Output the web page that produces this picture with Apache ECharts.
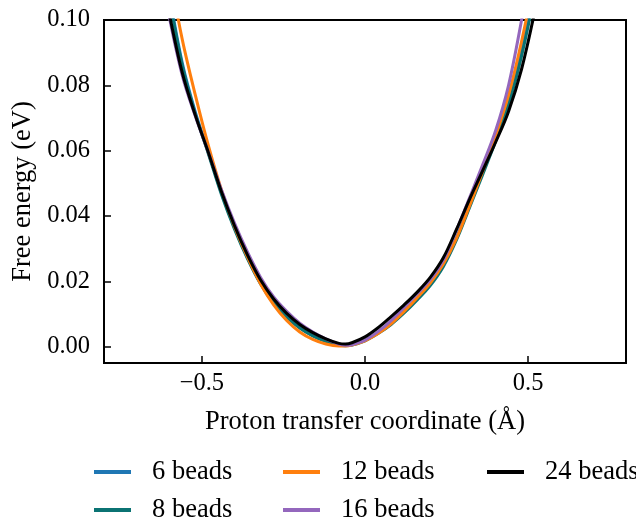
<!DOCTYPE html>
<html>
<head>
<meta charset="utf-8">
<script src="https://cdn.jsdelivr.net/npm/echarts@6/dist/echarts.min.js"></script>
<style>html,body{margin:0;padding:0;background:#fff}#c{width:636px;height:520px}</style>
</head>
<body>
<div id="c"></div>
<script>
const coords = [-0.60,-0.56,-0.52,-0.48,-0.44,-0.40,-0.36,-0.32,-0.28,-0.24,-0.20,-0.16,-0.12,-0.08,-0.06,-0.04,0.00,0.04,0.08,0.12,0.16,0.20,0.24,0.28,0.32,0.36,0.40,0.44,0.48,0.52];
const beads6  = [0.1080,0.0868,0.0718,0.0596,0.0470,0.0364,0.0272,0.0194,0.0135,0.0092,0.0058,0.0034,0.0017,0.0006,0.0004,0.0006,0.0020,0.0043,0.0072,0.0108,0.0148,0.0193,0.0251,0.0334,0.0433,0.0535,0.0640,0.0752,0.0905,0.1100];
const beads8  = [0.1070,0.0860,0.0712,0.0590,0.0466,0.0360,0.0269,0.0192,0.0133,0.0090,0.0057,0.0033,0.0016,0.0005,0.0003,0.0005,0.0018,0.0040,0.0068,0.0103,0.0143,0.0187,0.0245,0.0326,0.0425,0.0525,0.0628,0.0740,0.0890,0.1080];
const beads12 = [0.1150,0.0940,0.0770,0.0615,0.0480,0.0368,0.0274,0.0192,0.0128,0.0080,0.0045,0.0022,0.0008,0.0002,0.0002,0.0005,0.0018,0.0040,0.0070,0.0108,0.0150,0.0195,0.0253,0.0331,0.0430,0.0535,0.0645,0.0770,0.0935,0.1130];
const beads16 = [0.1010,0.0830,0.0705,0.0595,0.0480,0.0378,0.0289,0.0212,0.0152,0.0108,0.0072,0.0045,0.0024,0.0008,0.0004,0.0006,0.0020,0.0046,0.0080,0.0120,0.0162,0.0205,0.0265,0.0356,0.0455,0.0555,0.0660,0.0800,0.1000,0.1220];
const beads24 = [0.1020,0.0838,0.0708,0.0594,0.0474,0.0370,0.0280,0.0204,0.0146,0.0102,0.0068,0.0043,0.0024,0.0010,0.0008,0.0012,0.0030,0.0058,0.0092,0.0128,0.0167,0.0212,0.0272,0.0358,0.0450,0.0537,0.0625,0.0720,0.0850,0.1025];
const seriesNames = ['6 beads','8 beads','12 beads','16 beads','24 beads'];
const xTicks = [-0.5, 0.0, 0.5];
const yTicks = [0.00, 0.02, 0.04, 0.06, 0.08, 0.10];

const colors = ['#1f77b4','#0b7373','#ff7f0e','#9467bd','#000000'];
const allData = [beads6, beads8, beads12, beads16, beads24];
const font = 'Liberation Serif';
// legend slot positions (left of icon, row top)
const legendSlots = [[89,452],[89,490],[278,452],[278,490],[482,452]];

const chart = echarts.init(document.getElementById('c'), null, {renderer:'canvas'});
const series = seriesNames.map((n,i)=>({
  name:n, type:'line', smooth:0.35, showSymbol:false, symbol:'none',
  data: coords.map((x,j)=>[x, allData[i][j]]),
  lineStyle:{width:3, color:colors[i]}, itemStyle:{color:colors[i]},
  clip:true, z: 2+i
}));
const legends = seriesNames.map((n,i)=>({
  orient:'horizontal', left:legendSlots[i][0], top:legendSlots[i][1],
  itemWidth:37, itemHeight:4, icon:'rect', data:[n],
  textStyle:{fontFamily:font, fontSize:26.5, color:'#000', lineHeight:30, padding:[0,0,0,16]}
}));
chart.setOption({
  animation:false,
  backgroundColor:'#fff',
  grid:{left:104, right:10, top:20, bottom:157, show:true, borderColor:'#000', borderWidth:2, containLabel:false},
  legend:legends,
  xAxis:{
    type:'value', min:-0.8, max:0.8,
    name:'Proton transfer coordinate (Å)', nameLocation:'middle', nameGap:46,
    nameTextStyle:{fontFamily:font, fontSize:26.5, color:'#000'},
    axisLine:{show:true, onZero:false, lineStyle:{color:'#000', width:2}},
    axisTick:{show:true, inside:true, length:7, lineStyle:{color:'#000', width:1.5}, customValues:xTicks},
    axisLabel:{fontFamily:font, fontSize:24.5, color:'#000', margin:8, customValues:xTicks,
      formatter:v=>v.toFixed(1).replace('-','\u2212')},
    splitLine:{show:false}
  },
  yAxis:{
    type:'value', min:-0.005, max:0.1,
    name:'Free energy (eV)', nameLocation:'middle', nameGap:66, nameRotate:90,
    nameTextStyle:{fontFamily:font, fontSize:26.5, color:'#000'},
    axisLine:{show:true, onZero:false, lineStyle:{color:'#000', width:2}},
    axisTick:{show:true, inside:true, length:7, lineStyle:{color:'#000', width:1.5}, customValues:yTicks},
    axisLabel:{fontFamily:font, fontSize:24.5, color:'#000', margin:14, customValues:yTicks,
      formatter:v=>v.toFixed(2)},
    splitLine:{show:false}
  },
  series:series
});
</script>
</body>
</html>
